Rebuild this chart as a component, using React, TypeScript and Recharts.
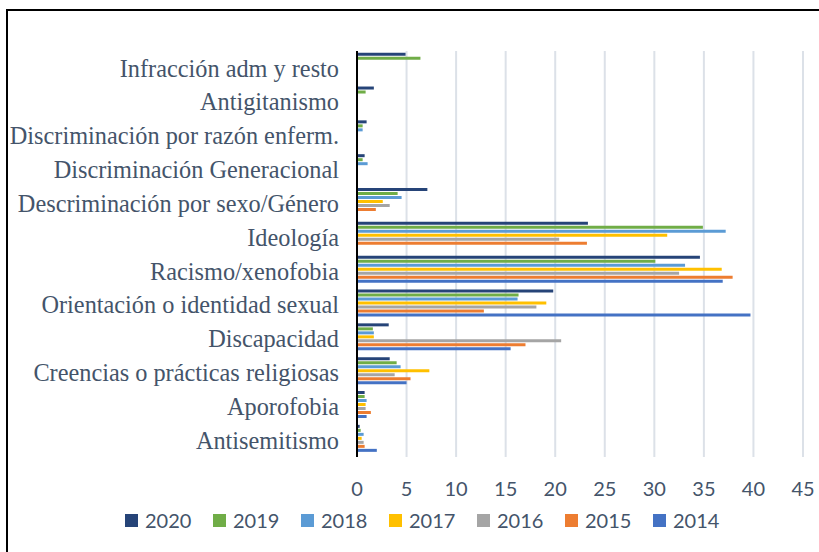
import { BarChart, Bar, XAxis, YAxis, CartesianGrid } from "recharts";

const categories = [
  "Infracción adm y resto",
  "Antigitanismo",
  "Discriminación por razón enferm.",
  "Discriminación Generacional",
  "Descriminación por sexo/Género",
  "Ideología",
  "Racismo/xenofobia",
  "Orientación o identidad sexual",
  "Discapacidad",
  "Creencias o prácticas religiosas",
  "Aporofobia",
  "Antisemitismo",
];

const v2020 = [4.9, 1.7, 0.97, 0.77, 7.1, 23.3, 34.6, 19.8, 3.2, 3.3, 0.77, 0.27];
const v2019 = [6.4, 0.87, 0.57, 0.57, 4.1, 34.9, 30.1, 16.3, 1.6, 4.0, 0.77, 0.37];
const v2018 = [0, 0, 0.57, 1.07, 4.5, 37.2, 33.1, 16.2, 1.7, 4.4, 0.97, 0.67];
const v2017 = [0, 0, 0, 0, 2.6, 31.3, 36.8, 19.1, 1.7, 7.3, 0.87, 0.47];
const v2016 = [0, 0, 0, 0, 3.3, 20.4, 32.5, 18.1, 20.6, 3.8, 0.87, 0.67];
const v2015 = [0, 0, 0, 0, 1.9, 23.2, 37.9, 12.8, 17.0, 5.4, 1.4, 0.77];
const v2014 = [0, 0, 0, 0, 0, 0, 36.9, 39.7, 15.5, 5.0, 0.97, 2.0];

const xTicks = [0, 5, 10, 15, 20, 25, 30, 35, 40, 45];

const series = [
  { key: "2020", values: v2020, color: "#264478" },
  { key: "2019", values: v2019, color: "#70AD47" },
  { key: "2018", values: v2018, color: "#5B9BD5" },
  { key: "2017", values: v2017, color: "#FFC000" },
  { key: "2016", values: v2016, color: "#A5A5A5" },
  { key: "2015", values: v2015, color: "#ED7D31" },
  { key: "2014", values: v2014, color: "#4472C4" },
];

const data = categories.map((name, i) => {
  const row: Record<string, string | number> = { name };
  series.forEach((s) => (row[s.key] = s.values[i]));
  return row;
});

const textColor = "#44546A";
const sansFont = "Lato, 'Open Sans', sans-serif";
const serifFont = "'Liberation Serif', 'Times New Roman', serif";

function LegendRow() {
  return (
    <div
      style={{
        position: "absolute",
        top: 508,
        left: 125,
        display: "flex",
        fontFamily: sansFont,
        fontSize: 20,
        color: textColor,
      }}
    >
      {series.map((s) => (
        <div key={s.key} style={{ width: 88, display: "flex", alignItems: "center" }}>
          <span style={{ width: 13, height: 13, background: s.color, marginRight: 7 }} />
          <span>{s.key}</span>
        </div>
      ))}
    </div>
  );
}

export default function App() {
  return (
    <div
      style={{
        position: "fixed",
        left: 0,
        top: 0,
        width: 819,
        height: 552,
        overflow: "hidden",
        background: "#fff",
      }}
    >
      <div
        style={{
          position: "absolute",
          left: 6,
          top: 9,
          width: 900,
          height: 700,
          border: "2px solid #000",
        }}
      />
      <div style={{ position: "absolute", left: 0, top: 0 }}>
        <BarChart
          width={819}
          height={552}
          data={data}
          layout="vertical"
          margin={{ top: 51, right: 16, bottom: 50, left: 0 }}
          barCategoryGap="5%"
          barGap={1}
        >
          <CartesianGrid horizontal={false} stroke="#DCE1E8" strokeWidth={2} />
          <XAxis
            type="number"
            domain={[0, 45]}
            ticks={xTicks}
            axisLine={false}
            tickLine={false}
            tickMargin={19}
            height={45}
            tick={{ fontFamily: sansFont, fontSize: 20, fill: textColor }}
          />
          <YAxis
            type="category"
            dataKey="name"
            width={357}
            interval={0}
            tickLine={false}
            tickSize={0}
            tickMargin={18}
            axisLine={{ stroke: "#000", strokeWidth: 2 }}
            tick={{ fontFamily: serifFont, fontSize: 24.3, fill: textColor }}
          />
          {series.map((s) => (
            <Bar key={s.key} dataKey={s.key} fill={s.color} isAnimationActive={false} />
          ))}
        </BarChart>
      </div>
      <LegendRow />
    </div>
  );
}
